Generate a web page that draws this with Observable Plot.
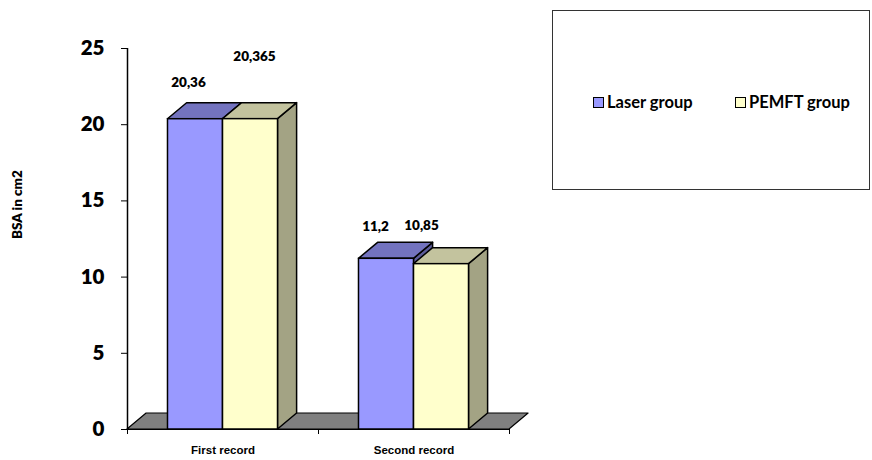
<!DOCTYPE html>
<html>
<head>
<meta charset="utf-8">
<script src="https://cdn.jsdelivr.net/npm/d3@7"></script>
<script src="https://cdn.jsdelivr.net/npm/@observablehq/plot@0.6"></script>
<style>
  html, body { margin: 0; padding: 0; background: #fff; }
  #wrap { position: relative; width: 872px; height: 460px; overflow: hidden; }
  #legend { position: absolute; left: 552px; top: 10px; width: 318px; height: 180px;
    border: 1px solid #333; box-sizing: border-box; font-family: Lato, "Open Sans", sans-serif;
    font-weight: 700; font-size: 16.5px; color: #000; }
  .item { position: absolute; top: 81px; display: flex; align-items: center; }
  .sw { width: 9px; height: 9px; border: 1.5px solid #000; margin-right: 3px; }
  g[aria-label="x-axis tick label"] text { font-family: 'Liberation Sans', Arial, sans-serif; font-weight: 700; }
  g[aria-label="y-axis tick label"] text { font-family: Lato, sans-serif; font-weight: 800; }
</style>
</head>
<body>
<div id="wrap"><div id="legend"></div></div>
<script>
const categories = ["First record", "Second record"];
const seriesNames = ["Laser group", "PEMFT group"];
const laser = [20.36, 11.2];
const pemft = [20.365, 10.85];
const yTicks = [0, 5, 10, 15, 20, 25];

// styling
const front = ["#9999FF", "#FFFFCC"];
const top3d = ["#7373BF", "#C3C39E"];
const side3d = ["#5C5C99", "#A3A384"];
const labelNudge = [[[-7, -37], [-11, -32]], [[4, -62], [-20, -38]]]; // [series][category] px
const BAR = 0.288, D = 0.1, DY = 1.05;

const seriesVals = [laser, pemft];
const bars = [];
seriesVals.forEach((vals, s) => vals.forEach((v, i) => {
  const c = i + 0.5;
  const x1 = s === 0 ? c - BAR : c, x2 = s === 0 ? c : c + BAR;
  bars.push({s, i, v, x1, x2, id: s + "-" + i, label: String(v).replace(".", ",")});
}));

function sidePts(b) {
  return [{id: b.id, s: b.s, x: b.x2, lo: 0, hi: b.v}, {id: b.id, s: b.s, x: b.x2 + D, lo: DY, hi: b.v + DY}];
}
function topPts(b) {
  return [
    {id: b.id, s: b.s, x: b.x1, lo: b.v, hi: b.v},
    {id: b.id, s: b.s, x: b.x1 + D, lo: b.v, hi: b.v + DY},
    {id: b.id, s: b.s, x: b.x2, lo: b.v, hi: b.v + DY},
    {id: b.id, s: b.s, x: b.x2 + D, lo: b.v + DY, hi: b.v + DY}
  ];
}
const floorPts = [
  {id: "f", x: 0, lo: 0, hi: 0}, {id: "f", x: D, lo: 0, hi: DY},
  {id: "f", x: categories.length, lo: 0, hi: DY}, {id: "f", x: categories.length + D, lo: DY, hi: DY}
];

const marks = [
  Plot.area(floorPts, {x1: "x", y1: "lo", y2: "hi", z: "id", fill: "#808080", stroke: "#000", strokeWidth: 1.2})
];
[0, 1].forEach(s => {
  const bs = bars.filter(b => b.s === s);
  marks.push(Plot.area(bs.flatMap(sidePts), {x1: "x", y1: "lo", y2: "hi", z: "id", fill: side3d[s], stroke: "#000", strokeWidth: 1.5}));
  marks.push(Plot.area(bs.flatMap(topPts), {x1: "x", y1: "lo", y2: "hi", z: "id", fill: top3d[s], stroke: "#000", strokeWidth: 1.5}));
  marks.push(Plot.rect(bs, {x1: "x1", x2: "x2", y1: 0, y2: "v", fill: front[s], stroke: "#000", strokeWidth: 1.5}));
});
bars.forEach(b => {
  marks.push(Plot.text([b], {x: d => (d.x1 + d.x2) / 2, y: "v", text: "label",
    dx: labelNudge[b.s][b.i][0], dy: labelNudge[b.s][b.i][1],
    fontSize: 13.5, fontWeight: 800, fontFamily: "Lato, sans-serif", fill: "#000"}));
});
marks.push(
  Plot.ruleX([0], {y1: 0, y2: 25, stroke: "#000", strokeWidth: 1.5}),
  Plot.ruleY([0], {x1: 0, x2: categories.length, stroke: "#000", strokeWidth: 1.2}),
  Plot.axisY({ticks: yTicks, tickSize: 6, tickPadding: 17, fontSize: 20.5, label: null}),
  Plot.axisX({ticks: d3.range(categories.length + 1), tickSize: 5, tickFormat: () => "", label: null}),
  Plot.axisX({ticks: categories.map((_, i) => i + 0.5), tickSize: 0, tickPadding: 16,
    tickFormat: d => categories[Math.floor(d)], fontSize: 11.5, label: null}),
  Plot.text(["BSA in cm2"], {frameAnchor: "left", dx: -110, rotate: -90, fontSize: 13.5,
    fontWeight: 800, fontFamily: "Lato, sans-serif", fill: "#000"})
);

const chart = Plot.plot({
  width: 872, height: 460,
  marginLeft: 127, marginRight: 363, marginTop: 48, marginBottom: 31,
  x: {type: "linear", domain: [0, categories.length]},
  y: {domain: [0, 25]},
  style: {color: "#000", background: "transparent", overflow: "visible"},
  marks
});
document.getElementById("wrap").prepend(chart);

const legend = document.getElementById("legend");
const lx = [40, 182];
seriesNames.forEach((n, s) => {
  const it = document.createElement("div");
  it.className = "item";
  it.style.left = lx[s] + "px";
  it.innerHTML = `<span class="sw" style="background:${front[s]}"></span><span>${n}</span>`;
  legend.appendChild(it);
});
</script>
</body>
</html>
